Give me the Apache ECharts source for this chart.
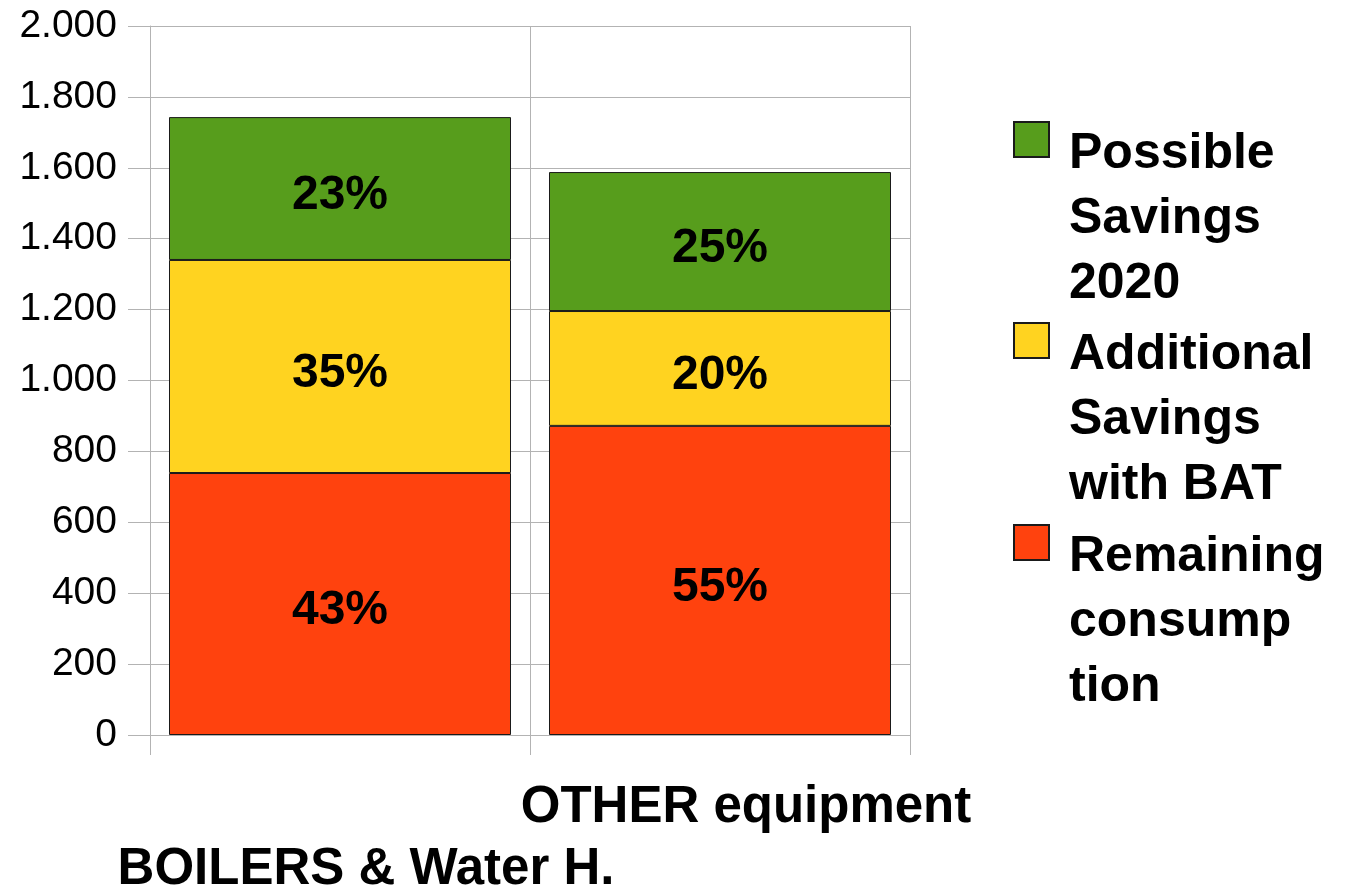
<!DOCTYPE html>
<html>
<head>
<meta charset="utf-8">
<script src="https://cdn.jsdelivr.net/npm/echarts@6/dist/echarts.min.js"></script>
<style>
  html, body { margin: 0; padding: 0; background: #fff; }
  #chart { width: 1347px; height: 888px; }
</style>
</head>
<body>
<div id="chart"></div>
<script>
// categories and values
var categories = ["BOILERS & Water H.", "OTHER equipment"];
var remaining = [739, 872];
var additional = [601, 324];
var possible = [403, 392];
var remainingPct = ["43%", "55%"];
var additionalPct = ["35%", "20%"];
var possiblePct = ["23%", "25%"];
var yTickLabels = ["0", "200", "400", "600", "800", "1.000", "1.200", "1.400", "1.600", "1.800", "2.000"];
var seriesNames = ["Remaining consumption", "Additional Savings with BAT", "Possible Savings 2020"];
var legendLines = {
    "Possible Savings 2020": ["Possible", "Savings", "2020"],
    "Additional Savings with BAT": ["Additional", "Savings", "with BAT"],
    "Remaining consumption": ["Remaining", "consump", "tion"]
};

var font = "'Liberation Sans', Arial, sans-serif";
var gridColor = "#b3b3b3";

var myChart = echarts.init(document.getElementById("chart"));

// one legend per entry; an empty first line pushes the text down
// so the swatch lines up with the first word
function makeLegend(name, top) {
    return {
        data: [name],
        left: 1013,
        top: top,
        padding: 0,
        orient: "vertical",
        icon: "rect",
        itemWidth: 35,
        itemHeight: 35,
        selectedMode: false,
        formatter: function(n) {
            var lines = legendLines[n].map(function(s) {
                return "{t|" + s + "}";
            });
            return "{pad| }\n" + lines.join("\n");
        },
        textStyle: {
            fontFamily: font,
            fontWeight: "bold",
            fontSize: 50,
            color: "#000",
            rich: {
                pad: { fontSize: 10, lineHeight: 160 },
                t: {
                    fontFamily: font,
                    fontWeight: "bold",
                    fontSize: 50,
                    lineHeight: 65,
                    color: "#000",
                    padding: [0, 0, 0, 15]
                }
            }
        }
    };
}

function barLabel(texts) {
    return {
        show: true,
        position: "inside",
        offset: [0, 7],
        fontFamily: font,
        fontWeight: "bold",
        fontSize: 48,
        color: "#000",
        formatter: function(p) {
            return texts[p.dataIndex];
        }
    };
}

var colors = ["#ff420e", "#ffd320", "#579d1c"];
var values = [remaining, additional, possible];
var pcts = [remainingPct, additionalPct, possiblePct];

var series = seriesNames.map(function(name, i) {
    return {
        name: name,
        type: "bar",
        stack: "total",
        barCategoryGap: "10%",
        data: values[i],
        itemStyle: {
            color: colors[i],
            borderColor: "#1a1a1a",
            borderWidth: 1
        },
        label: barLabel(pcts[i]),
        emphasis: { disabled: true }
    };
});

myChart.setOption({
    animation: false,
    grid: {
        left: 150,
        right: 437,
        top: 26,
        bottom: 153,
        outerBoundsMode: "none"
    },
    legend: [
        makeLegend("Possible Savings 2020", 37),
        makeLegend("Additional Savings with BAT", 238),
        makeLegend("Remaining consumption", 440)
    ],
    xAxis: {
        type: "category",
        data: categories,
        axisLine: { show: true, lineStyle: { color: gridColor } },
        axisTick: { show: true, length: 20, lineStyle: { color: gridColor } },
        splitLine: { show: true, lineStyle: { color: gridColor } },
        axisLabel: {
            interval: 0,
            margin: 42,
            fontFamily: font,
            fontWeight: "bold",
            fontSize: 51,
            lineHeight: 62,
            color: "#000",
            padding: [0, 0, 0, 52],
            formatter: function(v, idx) {
                // staggered labels: the first one goes one line lower
                return idx === 0 ? "\n" + v : v;
            }
        }
    },
    yAxis: {
        type: "value",
        min: 0,
        max: 2000,
        interval: 200,
        axisLine: { show: true, lineStyle: { color: gridColor } },
        axisTick: { show: true, length: 22, lineStyle: { color: gridColor } },
        splitLine: { show: true, lineStyle: { color: gridColor } },
        axisLabel: {
            margin: 33,
            fontFamily: font,
            fontSize: 39,
            color: "#000",
            formatter: function(v) {
                return yTickLabels[Math.round(v / 200)];
            }
        }
    },
    series: series
});

window.addEventListener("resize", function() {
    myChart.resize();
});
</script>
</body>
</html>
